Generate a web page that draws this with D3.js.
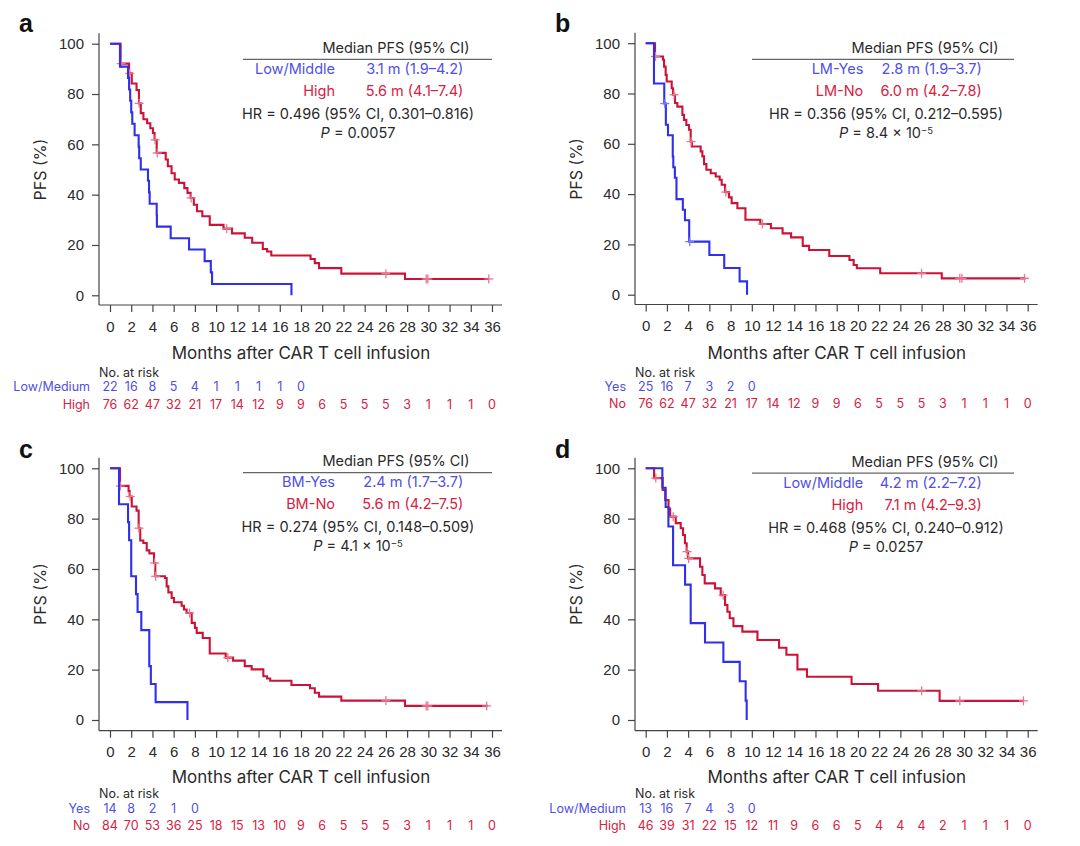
<!DOCTYPE html>
<html><head><meta charset="utf-8">
<script src="https://cdn.jsdelivr.net/npm/d3@7"></script>
<style>
body{margin:0;background:#fff;}
svg{display:block;font-family:Inter,"Liberation Sans",Arial,sans-serif;}
</style></head><body>
<svg id="chart" width="1080" height="846"></svg>
<script>
// ---------------- DATA ----------------
const xTicks = [0,2,4,6,8,10,12,14,16,18,20,22,24,26,28,30,32,34,36];
const yTicks = [0,20,40,60,80,100];

// Panel a
const aBlueSteps = [[0.94,90.9],[1.7,86.4],[1.8,81.8],[1.9,77.3],[2.0,72.7],[2.1,68.2],[2.32,63.6],[2.7,59.1],[2.75,54.5],[2.9,50.0],[3.58,45.5],[3.68,40.9],[3.74,36.4],[4.4,31.8],[4.42,27.3],[5.72,22.7],[7.45,18.2],[8.92,13.6],[9.5,9.1],[9.62,4.5],[17.1,0]];
const aBlueEnd = 17.1;
const aBlueCensor = [];
const aRedSteps = [[1.0,92.1],[1.8,88.2],[2.05,84.2],[2.5,81.6],[2.73,76.3],[2.9,72.4],[3.15,70.0],[3.5,68.4],[3.8,66.4],[4.05,64.5],[4.2,61.8],[4.4,56.6],[5.25,54.0],[5.45,51.3],[5.8,48.5],[6.1,46.0],[6.5,44.7],[7.0,42.6],[7.3,40.7],[7.6,38.7],[7.9,36.0],[8.2,33.4],[8.7,31.4],[9.4,28.0],[10.7,26.5],[11.5,24.6],[12.7,22.9],[13.4,20.9],[14.4,18.4],[14.8,17.4],[15.2,15.8],[18.9,14.4],[19.3,12.8],[19.7,10.8],[21.8,8.6],[27.8,6.5]];
const aRedEnd = 35.7;
const aRedCensor = [1.05,1.85,2.75,4.25,4.45,7.65,11.0,26.0,29.8,29.95,35.7];
const aRiskBlue = [22,16,8,5,4,1,1,1,1,0];
const aRiskRed = [76,62,47,32,21,17,14,12,9,9,6,5,5,5,3,1,1,1,0];

// Panel b
const bBlueSteps = [[0.78,84.0],[1.75,76.0],[1.9,67.6],[2.1,63.4],[2.55,54.9],[2.6,50.7],[2.75,46.5],[2.9,38.0],[3.5,33.8],[3.7,29.6],[4.1,21.1],[6.0,15.8],[7.4,10.6],[8.85,5.3],[9.55,0]];
const bBlueEnd = 9.55;
const bBlueCensor = [1.8,4.15];
const bRedSteps = [[0.88,94.7],[1.63,93.4],[1.73,90.7],[1.88,87.4],[1.98,84.8],[2.45,82.1],[2.58,79.5],[2.76,76.2],[2.98,74.8],[3.46,71.5],[3.61,69.5],[3.83,67.5],[4.08,65.6],[4.24,60.9],[4.35,58.9],[5.18,57.0],[5.34,55.0],[5.5,51.9],[5.72,49.7],[6.13,48.3],[6.6,47.0],[6.97,45.7],[7.16,43.7],[7.48,40.8],[7.85,38.7],[8.1,36.4],[8.64,34.4],[9.4,29.8],[10.8,28.1],[11.8,26.4],[12.9,24.4],[13.7,22.8],[14.8,19.4],[15.4,17.8],[17.3,15.4],[19.2,13.8],[19.6,11.8],[19.9,10.5],[22.1,8.5],[27.9,6.5]];
const bRedEnd = 35.8;
const bRedCensor = [0.92,2.67,4.28,7.55,11.0,26.0,29.6,29.8,35.7];
const bRiskBlue = [25,16,7,3,2,0];
const bRiskRed = [76,62,47,32,21,17,14,12,9,9,6,5,5,5,3,1,1,1,0];

// Panel c
const cBlueSteps = [[0.85,85.7],[1.7,78.6],[1.8,71.4],[2.0,57.1],[2.45,50.0],[2.6,42.9],[2.95,35.7],[3.7,21.4],[3.85,14.3],[4.3,7.1],[7.3,0]];
const cBlueEnd = 7.3;
const cBlueCensor = [];
const cRedSteps = [[0.94,93.0],[1.75,91.0],[1.85,88.8],[2.05,84.8],[2.5,83.2],[2.7,76.2],[2.85,71.3],[3.14,70.3],[3.46,67.4],[3.71,66.2],[4.15,62.4],[4.27,57.1],[5.18,56.4],[5.34,53.1],[5.5,50.7],[5.81,48.5],[6.03,46.8],[6.75,45.4],[6.97,43.9],[7.22,42.5],[7.7,38.6],[8.0,36.6],[8.17,34.6],[8.74,32.6],[9.4,26.4],[10.9,24.8],[11.6,23.6],[12.7,21.4],[13.35,20.1],[14.45,17.4],[14.8,16.5],[15.1,15.6],[17.1,13.9],[18.85,12.6],[19.3,10.8],[19.7,9.3],[21.8,7.7],[27.8,5.6]];
const cRedEnd = 35.6;
const cRedCensor = [0.97,1.9,2.72,4.2,4.3,7.5,11.1,26.0,29.8,29.95,35.5];
const cRiskBlue = [14,8,2,1,0];
const cRiskRed = [84,70,53,36,25,18,15,13,10,9,6,5,5,5,3,1,1,1,0];

// Panel d
const dBlueSteps = [[1.57,92.3],[1.88,84.6],[2.14,76.9],[2.58,61.5],[3.71,53.8],[4.24,38.5],[5.59,30.8],[7.32,23.1],[8.86,15.4],[9.42,7.7],[9.52,0]];
const dBlueEnd = 9.52;
const dBlueCensor = [];
const dRedSteps = [[0.79,96.1],[1.6,91.4],[1.84,87.4],[2.15,84.0],[2.3,80.8],[2.83,78.2],[3.3,76.2],[3.52,73.5],[3.7,70.2],[3.86,66.9],[3.99,64.2],[5.12,60.9],[5.34,57.6],[5.56,54.3],[6.53,52.3],[7.07,49.6],[7.48,45.7],[7.7,43.0],[7.92,40.4],[8.27,37.3],[9.11,35.1],[10.53,31.8],[12.57,28.7],[13.26,25.9],[14.3,20.1],[15.2,17.2],[19.4,14.3],[21.9,11.6],[27.7,7.6]];
const dRedEnd = 35.6;
const dRedCensor = [0.95,2.6,3.9,4.05,7.3,26.0,29.6,35.6];
const dRiskBlue = [13,16,7,4,3,0];
const dRiskRed = [46,39,31,22,15,12,11,9,6,6,5,4,4,4,2,1,1,1,0];

// Text
const panelLetters = ["a","b","c","d"];
const groupLabels = [["Low/Middle","High"],["LM-Yes","LM-No"],["BM-Yes","BM-No"],["Low/Middle","High"]];
const medianTexts = [["3.1 m (1.9\u20134.2)","5.6 m (4.1\u20137.4)"],["2.8 m (1.9\u20133.7)","6.0 m (4.2\u20137.8)"],["2.4 m (1.7\u20133.7)","5.6 m (4.2\u20137.5)"],["4.2 m (2.2\u20137.2)","7.1 m (4.2\u20139.3)"]];
const hrTexts = ["HR = 0.496 (95% CI, 0.301\u20130.816)","HR = 0.356 (95% CI, 0.212\u20130.595)","HR = 0.274 (95% CI, 0.148\u20130.509)","HR = 0.468 (95% CI, 0.240\u20130.912)"];
const pMantissa = ["0.0057","8.4 \u00d7 10","4.1 \u00d7 10","0.0257"];
const pExponent = ["","\u22125","\u22125",""];
const riskLabels = [["Low/Medium","High"],["Yes","No"],["Yes","No"],["Low/Medium","High"]];
const legendHeader = "Median PFS (95% CI)";
const xTitle = "Months after CAR T cell infusion";
const yTitle = "PFS (%)";
const riskTitle = "No. at risk";

// ---------------- LAYOUT ----------------
const BLUE = "#2f2fee", RED = "#cc1236";
const BLUE_T = "#4f4fe6", RED_T = "#d8203f";
const CENSOR_RED = "#e8788f", CENSOR_BLUE = "#7a7af2";
const AX = "#444", TXT = "#2a2a2a";

const panels = [
  {ox:99, x0:110, x36:492, y100:43.7, y0:295.3, axisY:305, top:true,
   blue:aBlueSteps, blueEnd:aBlueEnd, blueC:aBlueCensor, red:aRedSteps, redEnd:aRedEnd, redC:aRedCensor, riskB:aRiskBlue, riskR:aRiskRed,
   leg:{hy:47.7, l1:243, l2:492, hx:396, lab:335, val:463.3, hr:358}},
  {ox:635, x0:645.7, x36:1027.7, y100:43.2, y0:294.7, axisY:304.5, top:true,
   blue:bBlueSteps, blueEnd:bBlueEnd, blueC:bBlueCensor, red:bRedSteps, redEnd:bRedEnd, redC:bRedCensor, riskB:bRiskBlue, riskR:bRiskRed,
   leg:{hy:47.7, l1:752, l2:1014, hx:925, lab:863.3, val:981.7, hr:886}},
  {ox:99, x0:110, x36:492, y100:468.3, y0:720, axisY:730.7, top:false,
   blue:cBlueSteps, blueEnd:cBlueEnd, blueC:cBlueCensor, red:cRedSteps, redEnd:cRedEnd, redC:cRedCensor, riskB:cRiskBlue, riskR:cRiskRed,
   leg:{hy:461, l1:243, l2:492, hx:396, lab:335, val:463.3, hr:358}},
  {ox:635, x0:645.7, x36:1027.7, y100:468.3, y0:720, axisY:730.7, top:false,
   blue:dBlueSteps, blueEnd:dBlueEnd, blueC:dBlueCensor, red:dRedSteps, redEnd:dRedEnd, redC:dRedCensor, riskB:dRiskBlue, riskR:dRiskRed,
   leg:{hy:461.5, l1:752, l2:1014, hx:925, lab:863.3, val:981.7, hr:886}}
];

const svg = d3.select("#chart");

function levelAt(steps, t){
  let s = 100;
  for (const [tt, v] of steps){ if (tt <= t) s = v; else break; }
  return s;
}

panels.forEach((p, i) => {
  const g = svg.append("g");
  const x = d3.scaleLinear().domain([0,36]).range([p.x0, p.x36]);
  const y = d3.scaleLinear().domain([0,100]).range([p.y0, p.y100]);

  // panel letter
  g.append("text").attr("x", p.ox - 80).attr("y", p.top ? 32 : 458)
    .attr("font-size", 25).attr("font-weight", 800).attr("fill", "#111")
    .attr("font-family", "'Liberation Sans',Arial,sans-serif")
    .text(panelLetters[i]);

  // axis lines
  g.append("line").attr("x1", p.ox).attr("x2", p.ox).attr("y1", p.y100 - 10.5).attr("y2", p.axisY)
    .attr("stroke", AX).attr("stroke-width", 1.2);
  g.append("line").attr("x1", p.ox).attr("x2", p.x36 + 10).attr("y1", p.axisY).attr("y2", p.axisY)
    .attr("stroke", AX).attr("stroke-width", 1.2);

  // y axis ticks
  const ya = g.append("g").attr("transform", `translate(${p.ox},0)`)
    .call(d3.axisLeft(y).tickValues(yTicks).tickSize(7).tickPadding(8));
  ya.select(".domain").remove();
  ya.selectAll("line").attr("stroke", AX).attr("stroke-width", 1.2);
  ya.selectAll("text").attr("font-size", 15).attr("fill", TXT).attr("font-family", null);

  // x axis ticks
  const xa = g.append("g").attr("transform", `translate(0,${p.axisY})`)
    .call(d3.axisBottom(x).tickValues(xTicks).tickSize(7));
  xa.select(".domain").remove();
  xa.selectAll("line").attr("stroke", AX).attr("stroke-width", 1.2);
  xa.selectAll("text").attr("font-size", 15).attr("fill", TXT).attr("font-family", null)
    .attr("y", p.top ? 21.7 : 21).attr("dy", "0.35em");

  // axis titles
  g.append("text").attr("x", (p.x0 + p.x36)/2).attr("y", p.axisY + (p.top ? 48.3 : 46))
    .attr("dy","0.35em").attr("text-anchor","middle").attr("font-size", 17).attr("fill", TXT).text(xTitle);
  g.append("text").attr("transform", `translate(${p.ox - 59},${(p.y0 + p.y100)/2}) rotate(-90)`)
    .attr("dy","0.35em").attr("text-anchor","middle").attr("font-size", 16).attr("fill", TXT).text(yTitle);

  // curves
  const line = d3.line().x(d => x(d[0])).y(d => y(d[1])).curve(d3.curveStepAfter);
  function curve(steps, end, censor, color, ccolor){
    const pts = [[0,100], ...steps];
    pts.push([end, steps[steps.length-1][1]]);
    g.append("path").datum(pts).attr("d", line).attr("fill","none")
      .attr("stroke", color).attr("stroke-width", 2.1).attr("stroke-linejoin","miter");
    const cg = g.append("g");
    censor.forEach(t => {
      const cx = x(t), cy = y(levelAt(steps, t));
      cg.append("line").attr("x1", cx-4.5).attr("x2", cx+4.5).attr("y1", cy).attr("y2", cy)
        .attr("stroke", ccolor).attr("stroke-width", 1.3);
      cg.append("line").attr("x1", cx).attr("x2", cx).attr("y1", cy-4.5).attr("y2", cy+4.5)
        .attr("stroke", ccolor).attr("stroke-width", 1.3);
    });
  }
  curve(p.red, p.redEnd, p.redC, RED, CENSOR_RED);
  curve(p.blue, p.blueEnd, p.blueC, BLUE, CENSOR_BLUE);

  // legend
  const L = p.leg;
  g.append("text").attr("x", L.hx).attr("y", L.hy).attr("dy","0.35em").attr("text-anchor","middle")
    .attr("font-size", 14.5).attr("fill", TXT).text(legendHeader);
  g.append("line").attr("x1", L.l1).attr("x2", L.l2).attr("y1", L.hy + 11.6).attr("y2", L.hy + 11.6)
    .attr("stroke", "#666").attr("stroke-width", 1.2);
  const rowsY = [L.hy + 21.3, L.hy + 43];
  [BLUE_T, RED_T].forEach((c, k) => {
    g.append("text").attr("x", L.lab).attr("y", rowsY[k]).attr("dy","0.35em").attr("text-anchor","end")
      .attr("font-size", 14.5).attr("fill", c).text(groupLabels[i][k]);
    g.append("text").attr("x", L.val).attr("y", rowsY[k]).attr("dy","0.35em").attr("text-anchor","end")
      .attr("font-size", 14.5).attr("fill", c).text(medianTexts[i][k]);
  });
  g.append("text").attr("x", L.hr).attr("y", L.hy + 66.3).attr("dy","0.35em").attr("text-anchor","middle")
    .attr("font-size", 14.5).attr("fill", TXT).text(hrTexts[i]);
  const pt = g.append("text").attr("x", L.hr).attr("y", L.hy + 85).attr("dy","0.35em").attr("text-anchor","middle")
    .attr("font-size", 14.5).attr("fill", TXT);
  pt.append("tspan").attr("font-style","italic").text("P");
  pt.append("tspan").text(" = " + pMantissa[i]);
  if (pExponent[i]) pt.append("tspan").attr("font-size", 9.5).attr("dy", "-0.45em").text(pExponent[i]);

  // number at risk
  const r0 = p.axisY + (p.top ? 67.7 : 62.6);
  const r1 = p.axisY + (p.top ? 81.7 : 77.6);
  const r2 = p.axisY + (p.top ? 99.3 : 95.3);
  g.append("text").attr("x", p.ox).attr("y", r0).attr("dy","0.35em").attr("font-size", 12.5)
    .attr("fill", TXT).text(riskTitle);
  [[p.riskB, BLUE_T, r1], [p.riskR, RED_T, r2]].forEach(([vals, c, ry], k) => {
    g.append("text").attr("x", p.ox - 9).attr("y", ry).attr("dy","0.35em").attr("text-anchor","end")
      .attr("font-size", 12.5).attr("fill", c).text(riskLabels[i][k]);
    g.selectAll(null).data(vals).enter().append("text")
      .attr("x", (d, j) => x(xTicks[j])).attr("y", ry).attr("dy","0.35em").attr("text-anchor","middle")
      .attr("font-size", 12.5).attr("fill", c).text(d => d);
  });
});
</script>
</body></html>
